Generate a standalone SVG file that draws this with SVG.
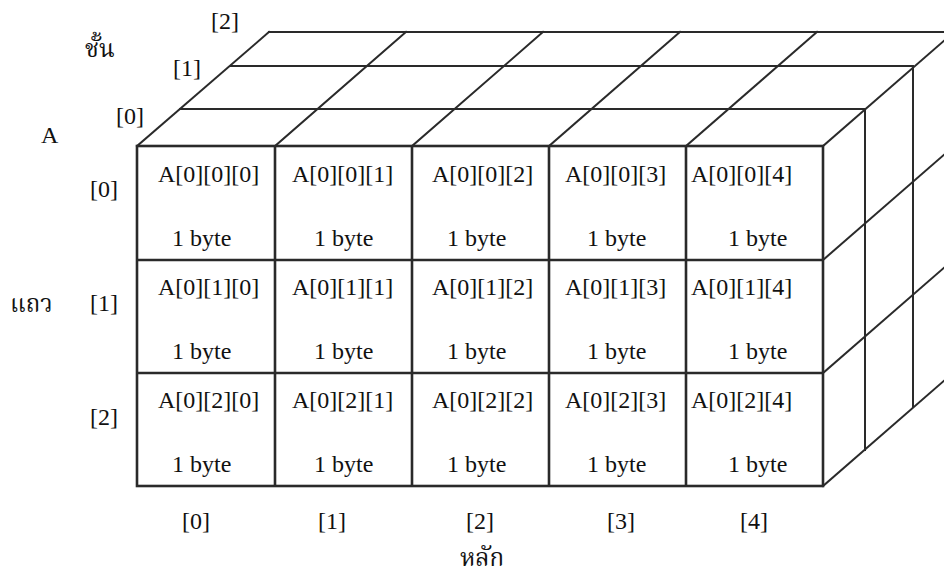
<svg xmlns="http://www.w3.org/2000/svg" width="944" height="574" viewBox="0 0 944 574">
<style>
.ln{stroke:#2a2a2a;stroke-width:2;fill:none;stroke-linecap:square}
.fr{stroke:#2a2a2a;stroke-width:2.6;fill:none}
.t{font-family:'Liberation Serif','DejaVu Serif',serif;font-size:24px;fill:#111}
.th{font-family:'Liberation Serif','Noto Serif Thai','Noto Sans Thai',serif;font-size:24px;fill:#111}
</style>
<rect width="944" height="574" fill="#fff"/>
<g id="connectors">
<line class="ln" x1="180" y1="109" x2="865" y2="109"/>
<line class="ln" x1="231" y1="66" x2="913" y2="66"/>
<line class="ln" x1="269" y1="32" x2="950" y2="32"/>
<line class="ln" x1="137" y1="146" x2="269" y2="32"/>
<line class="ln" x1="275" y1="146" x2="406" y2="32"/>
<line class="ln" x1="412" y1="146" x2="543" y2="32"/>
<line class="ln" x1="549" y1="146" x2="680" y2="32"/>
<line class="ln" x1="686" y1="146" x2="817" y2="32"/>
<line class="ln" x1="823" y1="146" x2="954" y2="32"/>
<line class="ln" x1="823" y1="260" x2="954" y2="146"/>
<line class="ln" x1="823" y1="373" x2="954" y2="259"/>
<line class="ln" x1="823" y1="486" x2="954" y2="372"/>
<line class="ln" x1="865" y1="109" x2="865" y2="450"/>
<line class="ln" x1="913" y1="66" x2="913" y2="407"/>
<rect class="fr" x="137" y="146" width="686" height="340"/>
<line class="fr" x1="275" y1="146" x2="275" y2="486"/>
<line class="fr" x1="412" y1="146" x2="412" y2="486"/>
<line class="fr" x1="549" y1="146" x2="549" y2="486"/>
<line class="fr" x1="686" y1="146" x2="686" y2="486"/>
<line class="fr" x1="137" y1="260" x2="823" y2="260"/>
<line class="fr" x1="137" y1="373" x2="823" y2="373"/>
</g>
<g class="t" font-family="Liberation Serif, serif">
<g id="cell-0-0"><text x="158" y="182">A[0][0][0]</text><text x="172" y="246">1 byte</text></g>
<g id="cell-0-1"><text x="292" y="182">A[0][0][1]</text><text x="314" y="246">1 byte</text></g>
<g id="cell-0-2"><text x="432" y="182">A[0][0][2]</text><text x="447" y="246">1 byte</text></g>
<g id="cell-0-3"><text x="565" y="182">A[0][0][3]</text><text x="587" y="246">1 byte</text></g>
<g id="cell-0-4"><text x="691" y="182">A[0][0][4]</text><text x="728" y="246">1 byte</text></g>
<g id="cell-1-0"><text x="158" y="295">A[0][1][0]</text><text x="172" y="359">1 byte</text></g>
<g id="cell-1-1"><text x="292" y="295">A[0][1][1]</text><text x="314" y="359">1 byte</text></g>
<g id="cell-1-2"><text x="432" y="295">A[0][1][2]</text><text x="447" y="359">1 byte</text></g>
<g id="cell-1-3"><text x="565" y="295">A[0][1][3]</text><text x="587" y="359">1 byte</text></g>
<g id="cell-1-4"><text x="691" y="295">A[0][1][4]</text><text x="728" y="359">1 byte</text></g>
<g id="cell-2-0"><text x="158" y="408">A[0][2][0]</text><text x="172" y="472">1 byte</text></g>
<g id="cell-2-1"><text x="292" y="408">A[0][2][1]</text><text x="314" y="472">1 byte</text></g>
<g id="cell-2-2"><text x="432" y="408">A[0][2][2]</text><text x="447" y="472">1 byte</text></g>
<g id="cell-2-3"><text x="565" y="408">A[0][2][3]</text><text x="587" y="472">1 byte</text></g>
<g id="cell-2-4"><text x="691" y="408">A[0][2][4]</text><text x="728" y="472">1 byte</text></g>
<g id="labels">
<text x="41" y="143">A</text>
<text x="211" y="29">[2]</text>
<text x="173" y="76">[1]</text>
<text x="116" y="124">[0]</text>
<text x="90" y="197">[0]</text>
<text x="90" y="311">[1]</text>
<text x="90" y="425">[2]</text>
<text x="182" y="529">[0]</text>
<text x="318" y="529">[1]</text>
<text x="466" y="529">[2]</text>
<text x="607" y="529">[3]</text>
<text x="740" y="529">[4]</text>
</g>
</g>
<g id="thai-labels">
<text class="th" x="85" y="57">ชั้น</text>
<text class="th" x="10" y="312">แถว</text>
<text class="th" x="460" y="566">หลัก</text>
</g>
</svg>
